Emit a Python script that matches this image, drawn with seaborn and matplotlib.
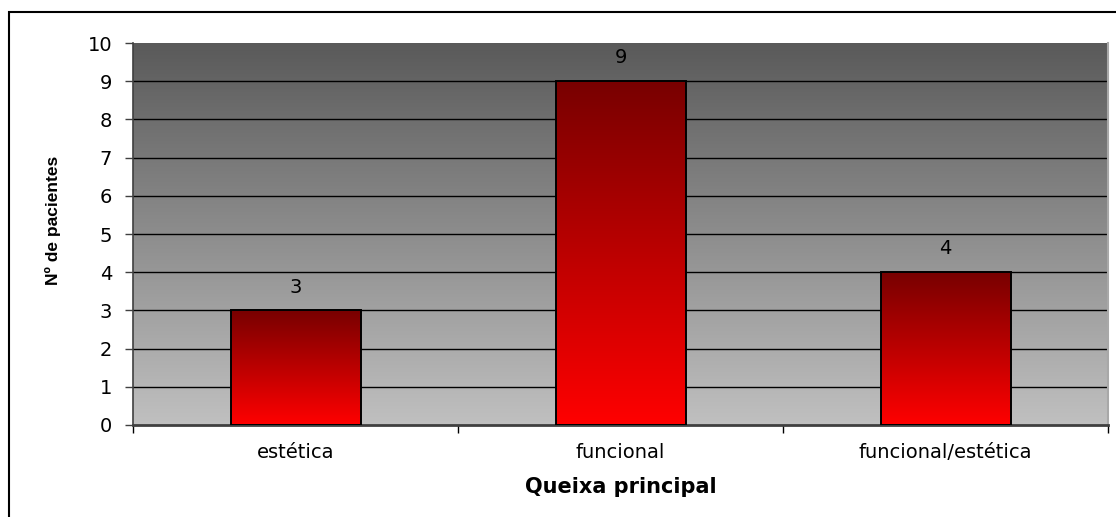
import numpy as np
import matplotlib
matplotlib.use("Agg")
import matplotlib.pyplot as plt
from matplotlib.colors import LinearSegmentedColormap
from matplotlib.patches import Rectangle
import seaborn as sns

# Chart data
categories = ["estética", "funcional", "funcional/estética"]
patients = [3, 9, 4]
y_ticks = list(range(0, 11))

sns.set_theme(style="white")
plt.rcParams["font.family"] = ["DejaVu Sans"]
plt.rcParams["text.color"] = "black"
plt.rcParams["xtick.labelcolor"] = "black"
plt.rcParams["ytick.labelcolor"] = "black"

W, H = 1116, 517
fig = plt.figure(figsize=(W / 100, H / 100), dpi=100)
fig.patch.set_facecolor("white")

# Plot area in pixel coordinates
left, right, top, bottom = 133, 1108, 43, 425
ax = fig.add_axes([left / W, 1 - bottom / H, (right - left) / W, (bottom - top) / H])
ax.set_facecolor("none")

sns.barplot(x=categories, y=patients, width=0.4, ax=ax, color="red",
            edgecolor="black", linewidth=1.4, saturation=1, zorder=3)

ax.set_xlim(-0.5, 2.5)
ax.set_ylim(0, 10)

# Grey gradient background, dark at the top
bg_cmap = LinearSegmentedColormap.from_list("bg", ["#c0c0c0", "#5a5a5a"])
grad = np.linspace(0, 1, 256).reshape(-1, 1)
ax.imshow(grad, cmap=bg_cmap, origin="lower", aspect="auto",
          extent=(-0.5, 2.5, 0, 10), zorder=0)

# Red gradient fill inside each bar
bar_cmap = LinearSegmentedColormap.from_list("bar", ["#ff0000", "#780000"])
for patch in ax.patches:
    x0, y0 = patch.get_x(), patch.get_y()
    w, h = patch.get_width(), patch.get_height()
    im = ax.imshow(grad, cmap=bar_cmap, origin="lower", aspect="auto",
                   extent=(x0, x0 + w, y0, y0 + h), zorder=2)
    im.set_clip_path(patch)
    patch.set_facecolor("none")
    patch.set_zorder(3)

# Horizontal grid lines
for yv in y_ticks[1:-1]:
    ax.axhline(yv, color="black", linewidth=1.0, zorder=1)

ax.set_xlim(-0.5, 2.5)
ax.set_ylim(0, 10)

# Value labels
for i, v in enumerate(patients):
    ax.annotate(str(v), (i, v), xytext=(0, 10), textcoords="offset points",
                ha="center", va="bottom", fontsize=14, color="black")

# Ticks
ax.set_yticks(y_ticks)
ax.set_yticklabels([str(t) for t in y_ticks], fontsize=14)
ax.tick_params(axis="y", length=6, width=1, color="#404040", pad=9, left=True,
               labelcolor="black")
ax.set_xticks(range(len(categories)))
ax.set_xticklabels(categories, fontsize=14)
ax.tick_params(axis="x", length=0, pad=13, labelcolor="black")
ax.set_xticks([-0.5, 0.5, 1.5, 2.5], minor=True)
ax.tick_params(axis="x", which="minor", length=6, width=1, color="black", bottom=True)

ax.spines["top"].set_visible(False)
ax.spines["right"].set_color("#a8a8a8")
ax.spines["right"].set_linewidth(1.5)
ax.spines["left"].set_color("#404040")
ax.spines["left"].set_linewidth(1.2)
ax.spines["bottom"].set_color("#404040")
ax.spines["bottom"].set_linewidth(2)

ax.set_xlabel("")
ax.set_ylabel("")

# Axis titles
fig.text((left + right) / 2 / W, 1 - 487 / H, "Queixa principal",
         ha="center", va="center", fontsize=15, fontweight="bold", color="black")
fig.text(53 / W, 1 - 220 / H, "Nº de pacientes", rotation=90,
         ha="center", va="center", fontsize=12.5, fontweight="bold",
         color="black", family=["Liberation Sans", "DejaVu Sans"])

# Outer chart frame
fig.patches.append(Rectangle((9 / W, -0.1), 1.2, 1 - 12 / H + 0.1,
                             transform=fig.transFigure, fill=False,
                             edgecolor="black", linewidth=1.5))

fig.savefig("out.png", dpi=100)
